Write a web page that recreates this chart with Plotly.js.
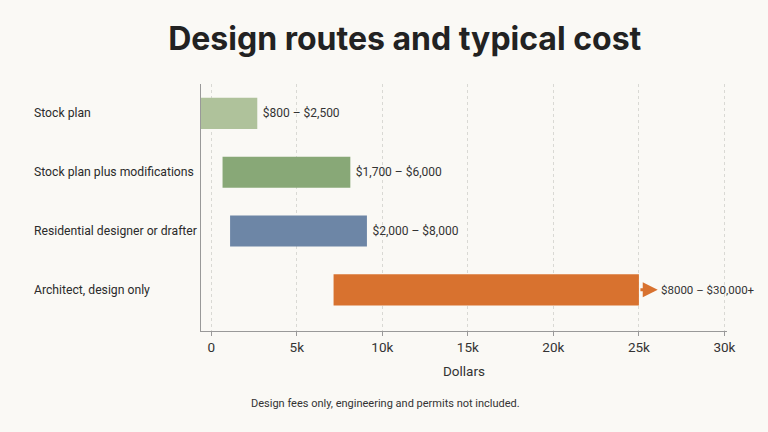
<!DOCTYPE html>
<html><head><meta charset="utf-8">
<script src="https://cdn.plot.ly/plotly-3.0.1.min.js"></script>
<style>html,body{margin:0;padding:0;background:#faf9f5;}#chart{width:768px;height:432px;}</style>
</head><body><div id="chart"></div>
<script>
const categories = ["Stock plan","Stock plan plus modifications","Residential designer or drafter","Architect, design only"];
const rangeStart = [-600, 660, 1100, 7150];
const rangeEnd = [2690, 8130, 9100, 25000];
const valueLabels = ["$800 – $2,500","$1,700 – $6,000","$2,000 – $8,000","$8000 – $30,000+"];
const barColors = ["#afc29b","#88a877","#6d86a6","#d8722f"];
const arrowTip = 26100;
const tickVals = [0,5000,10000,15000,20000,25000,30000];
const tickText = ["0","5k","10k","15k","20k","25k","30k"];

const widths = rangeEnd.map((e,i)=>e-rangeStart[i]);
const font = "Roboto, 'Noto Sans', Arial, sans-serif";
const titleFont = "Inter, 'Noto Sans', Arial, sans-serif";

const trace = {
  type:'bar', orientation:'h', y:categories, x:widths, base:rangeStart,
  marker:{color:barColors, line:{width:0}}, width:0.53,
  text: valueLabels.map((t,i)=> i<3 ? '\u2009' + t : ''), textposition:'outside', cliponaxis:false,
  textfont:{family:font,size:12,color:'#333'}, hoverinfo:'skip'
};

const annotations = categories.map(c=>({
  xref:'paper', yref:'y', x:-169/526, y:c, xanchor:'left', yanchor:'middle',
  text:c, showarrow:false, font:{family:font,size:12.2,color:'#2b2b2b'}
}));
annotations.push({
  xref:'x', yref:'y', x:arrowTip, y:categories[3], ax:rangeEnd[3], ay:categories[3],
  axref:'x', ayref:'y', showarrow:true, arrowhead:2, arrowsize:1, arrowwidth:3,
  arrowcolor:barColors[3], text:''
});
annotations.push({
  xref:'x', yref:'y', x:arrowTip, y:categories[3], xanchor:'left', yanchor:'middle',
  xshift:1, text:valueLabels[3], showarrow:false, font:{family:font,size:11.5,color:'#333'}
});
annotations.push({
  xref:'paper', yref:'paper', x:(385-201)/526, y:0, yshift:-64, xanchor:'center', yanchor:'top',
  text:"Design fees only, engineering and permits not included.", showarrow:false,
  font:{family:font,size:11,color:'#333'}
});

const layout = {
  width:768, height:432,
  paper_bgcolor:'#faf9f5', plot_bgcolor:'#faf9f5',
  margin:{l:201, r:41, t:84, b:101},
  title:{text:"<b>Design routes and typical cost</b>", x:0.527, xanchor:'center', y:0.91, yanchor:'middle',
    font:{family:titleFont,size:32,color:'#222'}},
  showlegend:false,
  bargap:0.4,
  xaxis:{range:[-600,30150], tickvals:tickVals, ticktext:tickText, showgrid:true,
    gridcolor:'#d9d9d4', griddash:'dot', gridwidth:1, zeroline:false,
    showline:true, linecolor:'#999', linewidth:1, ticks:'outside', ticklen:4, tickcolor:'#999',
    tickfont:{family:font,size:13.5,color:'#333'},
    title:{text:"Dollars", font:{family:font,size:13.5,color:'#333'}, standoff:12}},
  yaxis:{range:[3.7,-0.5], showticklabels:false, showgrid:false, zeroline:false,
    showline:true, linecolor:'#999', linewidth:1, ticks:''},
  annotations:annotations
};

Plotly.newPlot('chart',[trace],layout,{displayModeBar:false,staticPlot:true});
</script></body></html>
